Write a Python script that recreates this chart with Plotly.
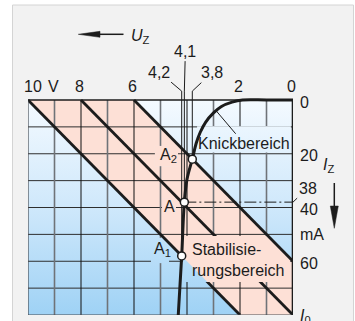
import numpy as np
import plotly.graph_objects as go

# ---------------------------------------------------------------------------
# Z-diode characteristic (reverse direction): U_Z in V, I_Z in mA
curve_u = [0.0, 1.0, 1.9, 2.3, 2.7, 3.0, 3.3, 3.5, 3.65, 3.8, 4.0, 4.1, 4.2, 4.33]
curve_i = [0.0, 0.0, 0.0, 0.8, 2.4, 4.8, 8.3, 12.0, 16.0, 22.0, 29.5, 38.0, 58.0, 80.0]

# Load lines of the series resistor for three supply voltages
supply_u = [10, 8, 6]          # V, intercept at I = 0
r_series = 0.1                 # V per mA (100 Ohm)

# Operating points on the characteristic
op_names = ["A<sub>1</sub>", "A", "A<sub>2</sub>"]
op_u = [4.2, 4.1, 3.8]
op_i = [58, 38, 22]
op_u_text = ["4,2", "4,1", "3,8"]

# Axis labelling
u_tick_vals = [10, 9, 8, 6, 2, 0]
u_tick_text = ["10", "V", "8", "6", "2", "0"]
i_tick_vals = [0, 20, 40, 60]
u_max = 10
i_max = 80
i_cross = 38                   # current marked on the right scale

# ---------------------------------------------------------------------------
W, H = 355, 321
M_L, M_R, M_T, M_B = 28, 62, 40, 6
PLOT_W = W - M_L - M_R
PLOT_H = H - M_T - M_B
K_U = PLOT_W / u_max                   # px per V
K_I = 215 / i_max                      # px per mA
I_TOP = -(PLOT_H - i_max * K_I) / K_I  # current value at the top of the plot area

FONT = "Liberation Sans, Arial, sans-serif"
INK = "#1c1c1c"
PINK = "#fde0d6"
BLUE_SCALE = [[0.0, "#f4faff"], [0.5, "#cfe8fb"], [1.0, "#9fd2f5"]]
GRAD = dict(type="vertical", colorscale=BLUE_SCALE, start=0, stop=i_max)


def px(x):
    return (x - M_L) / PLOT_W


def py(y):
    return (H - M_B - y) / PLOT_H


def load_end(u0):
    i_end = min(i_max, u0 / r_series)
    return u0 - r_series * i_end, i_end


def clip_polygon(poly, u_lo, u_hi, i_lo, i_hi):
    def clip(pts, inside, cut):
        out = []
        for k in range(len(pts)):
            cur, prev = pts[k], pts[k - 1]
            if inside(cur):
                if not inside(prev):
                    out.append(cut(prev, cur))
                out.append(cur)
            elif inside(prev):
                out.append(cut(prev, cur))
        return out

    def cut_u(v):
        return lambda p, q: (v, p[1] + (v - p[0]) / (q[0] - p[0]) * (q[1] - p[1]))

    def cut_i(v):
        return lambda p, q: (p[0] + (v - p[1]) / (q[1] - p[1]) * (q[0] - p[0]), v)

    pts = list(poly)
    for inside, cut in [
        (lambda p: p[0] >= u_lo, cut_u(u_lo)),
        (lambda p: p[0] <= u_hi, cut_u(u_hi)),
        (lambda p: p[1] >= i_lo, cut_i(i_lo)),
        (lambda p: p[1] <= i_hi, cut_i(i_hi)),
    ]:
        if pts:
            pts = clip(pts, inside, cut)
    return pts


fig = go.Figure()


def add_line(xs, ys, color=INK, width=1.0, dash=None, shape="linear"):
    fig.add_trace(go.Scatter(
        x=xs, y=ys, mode="lines", hoverinfo="skip", showlegend=False,
        line=dict(color=color, width=width, dash=dash, shape=shape)))


def add_fill(xs, ys, fillcolor=None, gradient=None):
    kw = dict(fillgradient=gradient) if gradient else dict(fillcolor=fillcolor)
    fig.add_trace(go.Scatter(
        x=list(xs) + [xs[0]], y=list(ys) + [ys[0]], mode="lines", fill="toself",
        line=dict(width=0), hoverinfo="skip", showlegend=False, **kw))


# Stabilisation band between the outer load lines
u1_end, i1_end = load_end(supply_u[0])
u3_end, i3_end = load_end(supply_u[-1])
band = [(supply_u[0], 0), (supply_u[-1], 0), (u3_end, i3_end)]
if i3_end < i_max:
    band.append((0, i_max))
band.append((u1_end, i1_end))


def add_background(u_lo, u_hi, i_lo, i_hi):
    add_fill([u_lo, u_hi, u_hi, u_lo], [i_lo, i_lo, i_hi, i_hi], gradient=GRAD)
    part = clip_polygon(band, u_lo, u_hi, i_lo, i_hi)
    if len(part) >= 3:
        add_fill([p[0] for p in part], [p[1] for p in part], fillcolor=PINK)


# background of the whole field
add_background(0, u_max, 0, i_max)

# grid
gx_black, gy_black, gx_grey, gy_grey = [], [], [], []
for u in range(1, u_max):
    xs, ys = (gx_black, gy_black) if u % 2 == 0 else (gx_grey, gy_grey)
    xs += [u, u, None]
    ys += [0, i_max, None]
hx, hy = [], []
for i in range(10, i_max, 10):
    hx += [0, u_max, None]
    hy += [i, i, None]
add_line(hx, hy, color="#2e2e2e", width=1.0)
add_line(gx_grey, gy_grey, color="#6f7378", width=1.6)
add_line(gx_black, gy_black, color="#111111", width=1.0)

# clear space behind the labels inside the field
label_boxes = [
    (0.08, 3.62, 9.8, 19.5),     # Knickbereich
    (4.34, 5.21, 17.1, 24.6),    # A2
    (4.42, 4.94, 36.5, 42.8),    # A
    (4.68, 5.36, 51.3, 60.7),    # A1
]
for box in label_boxes:
    add_background(*box)

# load lines (first two), then the space behind the long label, then the third
for u0 in supply_u[:2]:
    ue, ie = load_end(u0)
    add_line([u0, ue], [0, ie], width=2.8)
add_background(0.11, 4.15, 50.6, 67.7)
ue, ie = load_end(supply_u[2])
add_line([supply_u[2], ue], [0, ie], width=2.8)

# frame of the field
add_line([u_max, u_max, 0], [0, i_max, i_max], color="#4a4f55", width=1.2)
add_line([u_max, 0], [0, 0], color=INK, width=1.4)
add_line([0, 0], [0, i_max], color=INK, width=2.6)

# voltage markers of the operating points
for u, i in zip(op_u, op_i):
    add_line([u, u], [-3.3, i], width=1.0)

# marked current on the right scale
a_idx = op_i.index(i_cross)
add_line([op_u[a_idx], 0], [i_cross, i_cross], width=1.0, dash="12px,3px,2px,3px")

# characteristic
add_line(curve_u, curve_i, width=3.0, shape="spline")

# operating points
fig.add_trace(go.Scatter(
    x=op_u, y=op_i, mode="markers", hoverinfo="skip", showlegend=False,
    marker=dict(size=8, color="white", line=dict(color=INK, width=1.5))))

# ---------------------------------------------------------------------------
ann = []
tf = dict(family=FONT, size=16, color=INK)

for v, t in zip(u_tick_vals, u_tick_text):
    ann.append(dict(x=v, y=0, text=t, showarrow=False, font=tf,
                    xshift=5 if v == u_max else -1.5, yshift=14))

for v in i_tick_vals:
    ann.append(dict(x=0, y=v, text=str(v), showarrow=False, font=tf,
                    xanchor="left", xshift=5, yshift=-2))
ann.append(dict(x=0, y=50, text="mA", showarrow=False, font=tf,
                xanchor="left", xshift=5))
ann.append(dict(x=0, y=i_max, text="<i>I</i><sub>0</sub>", showarrow=False,
                font=tf, xanchor="left", xshift=5, yshift=-1))
ann.append(dict(x=0, y=i_cross, text=str(i_cross), showarrow=True, arrowhead=0,
                arrowwidth=1, arrowcolor=INK, ax=14.5, ay=-14, font=tf))

# labels of the marker voltages with leaders
leader_offsets = [(-22.4, -19), (1, -40), (19.7, -18.5)]
for u, t, (ax, ay) in zip(op_u, op_u_text, leader_offsets):
    ann.append(dict(x=u, y=-3.3, text=t, showarrow=True, arrowhead=0,
                    arrowwidth=1, arrowcolor=INK, ax=ax, ay=ay, font=tf))

# operating point names
name_offsets = [(-19.7, 6), (-14.4, -4), (-24, 4)]
for u, i, t, (dx, dy) in zip(op_u, op_i, op_names, name_offsets):
    ann.append(dict(x=u, y=i, text=t, showarrow=False, font=tf,
                    xshift=dx, yshift=dy))

# region names
knick_u = 2.9
knick_i = float(np.interp(knick_u, curve_u, curve_i))
ann.append(dict(x=knick_u, y=knick_i, text="Knickbereich", showarrow=True,
                arrowhead=0, arrowwidth=1, arrowcolor=INK, ax=28, ay=33,
                font=tf))
ann.append(dict(x=3.89, y=59.5, text="Stabilisie-<br>rungsbereich",
                showarrow=False, font=tf, xanchor="left", align="left"))

# axis titles with direction arrows
ann.append(dict(xref="paper", yref="paper", x=px(129), y=py(33.5),
                text="<i>U</i><sub>Z</sub>", showarrow=False, font=tf,
                xanchor="left", yshift=8))
ann.append(dict(xref="paper", yref="paper", x=px(336), y=py(167),
                text="<i>I</i><sub>Z</sub>", showarrow=False, font=tf,
                yshift=2))

shapes = [
    # panel
    dict(type="rect", xref="paper", yref="paper", layer="below",
         x0=px(12.5), x1=px(353.5), y0=py(5), y1=py(340),
         fillcolor="#f2f2f2", line=dict(color="#d4d4d4", width=1)),
    # U_Z arrow
    dict(type="line", xref="paper", yref="paper",
         x0=px(99), x1=px(123.5), y0=py(34.3), y1=py(34.3),
         line=dict(color=INK, width=1.5)),
    dict(type="path", xref="paper", yref="paper",
         path=f"M {px(78.3)} {py(34.3)} L {px(100)} {py(31.3)} "
              f"L {px(100)} {py(37.3)} Z",
         fillcolor=INK, line=dict(color=INK, width=0.5)),
    # I_Z arrow
    dict(type="line", xref="paper", yref="paper",
         x0=px(334.3), x1=px(334.3), y0=py(183), y1=py(207),
         line=dict(color=INK, width=1.5)),
    dict(type="path", xref="paper", yref="paper",
         path=f"M {px(334.3)} {py(228.3)} L {px(330.3)} {py(206)} "
              f"L {px(338.3)} {py(206)} Z",
         fillcolor=INK, line=dict(color=INK, width=0.5)),
]

fig.update_layout(
    width=W, height=H,
    margin=dict(l=M_L, r=M_R, t=M_T, b=M_B, pad=0),
    paper_bgcolor="white", plot_bgcolor="rgba(0,0,0,0)",
    xaxis=dict(range=[u_max, 0], visible=False, fixedrange=True),
    yaxis=dict(range=[i_max, I_TOP], visible=False, fixedrange=True),
    annotations=ann, shapes=shapes, showlegend=False,
)

fig.write_html("out.html", config=dict(displayModeBar=False))
